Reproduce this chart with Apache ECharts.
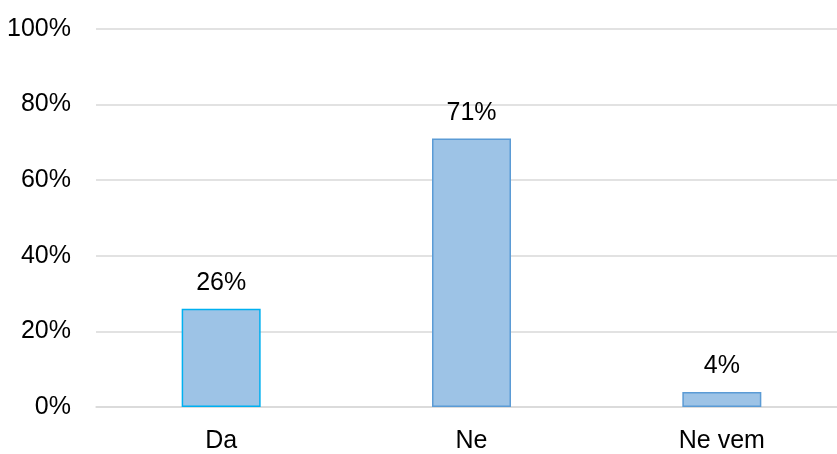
<!DOCTYPE html>
<html><head><meta charset="utf-8">
<script src="https://cdn.jsdelivr.net/npm/echarts@6/dist/echarts.min.js"></script>
<style>html,body{margin:0;padding:0;background:#fff}#c{width:837px;height:454px}</style>
</head><body><div id="c"></div>
<script>
const categories = ['Da', 'Ne', 'Ne vem'];
const values = [26, 71, 4];
const borderColors = ['#00b0f0', '#5b9bd5', '#5b9bd5'];
const yTicks = [0, 20, 40, 60, 80, 100];

const font = '"Liberation Sans Narrow", "Liberation Sans", Arial, sans-serif';
const fs = 25;
const chart = echarts.init(document.getElementById('c'));
chart.setOption({
  animation: false,
  grid: { left: 96, top: 29, width: 751, bottom: 47, containLabel: false, outerBoundsMode: 'none' },
  xAxis: {
    type: 'category', data: categories,
    axisLine: { show: true, lineStyle: { color: '#d9d9d9', width: 1.5 } },
    axisTick: { show: false },
    axisLabel: { color: '#000', fontFamily: font, fontSize: fs, margin: 22 }
  },
  yAxis: {
    type: 'value', min: 0, max: 100, interval: 20,
    axisLine: { show: false }, axisTick: { show: false },
    splitLine: { lineStyle: { color: '#d9d9d9', width: 1.5 } },
    axisLabel: { color: '#000', fontFamily: font, fontSize: fs, margin: 25,
      formatter: v => yTicks.includes(v) ? v + '%' : '' }
  },
  series: [{
    type: 'bar', barWidth: 79,
    data: values.map((v, i) => ({ value: v, itemStyle: { color: '#9dc3e6', borderColor: borderColors[i], borderWidth: 1.5 } })),
    label: { show: true, position: 'top', distance: 13, color: '#000', fontFamily: font, fontSize: fs, formatter: '{c}%' }
  }]
});
</script></body></html>
